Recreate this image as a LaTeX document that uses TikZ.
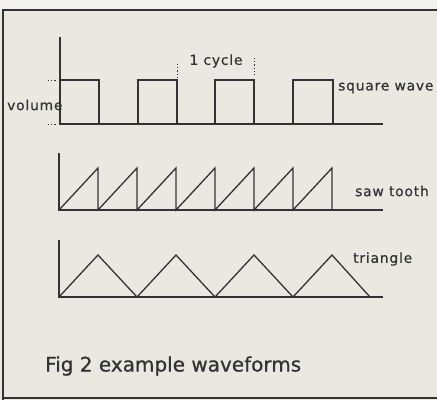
\documentclass[tikz,border=0pt]{standalone}
\usepackage{fontspec}
\setmainfont{DejaVu Sans}
\newfontfamily\lblfont[LetterSpace=6,FakeBold=0.6]{DejaVu Sans}
\newfontfamily\capfont[FakeBold=0.8]{DejaVu Sans}
\definecolor{paper}{HTML}{EAE8E1}
\definecolor{strip}{HTML}{F3F2EE}
\definecolor{ink}{HTML}{333333}
\begin{document}
\begin{tikzpicture}[x=1pt,y=-1pt,
  wave/.style={draw=ink,line width=1.3pt,line join=miter},
  axis/.style={draw=ink,line width=1.3pt},
  lbl/.style={text=ink,font=\lblfont\fontsize{13.8}{14}\selectfont,inner sep=0pt},
  tick/.style={draw=ink,line width=0.9pt,dash pattern=on 1.2pt off 2pt}]
\fill[paper] (0,0) rectangle (437,400);
\fill[strip] (0,0) rectangle (437,10);
\useasboundingbox (0,0) rectangle (437,400);
% frame
\draw[ink,line width=1.8pt] (3,400) -- (3,10) -- (437,10);
\draw[ink,line width=1.2pt] (3,398) -- (437,398);
% square wave
\draw[axis] (60,37) -- (60,124) -- (383,124);
\draw[wave] (60,80) -- (99,80) -- (99,124);
\draw[wave] (138,124) -- (138,80) -- (177,80) -- (177,124);
\draw[wave] (215,124) -- (215,80) -- (254,80) -- (254,124);
\draw[wave] (293,124) -- (293,80) -- (333,80) -- (333,124);
\draw[tick] (48,80) -- (56,80);
\draw[tick] (48,124) -- (56,124);
\draw[tick] (177,64) -- (177,77);
\draw[tick] (254,58) -- (254,77);
\node[lbl,anchor=west] (vol) at (7,105) {volume};
\node[lbl] (cyc) at (216,61) {1 cycle};
\node[lbl,anchor=west] (sq) at (338,88) {square wave};
% saw tooth
\draw[axis] (59,153) -- (59,210) -- (383,210);
\draw[wave] (59,210) -- (98,168) -- (98,210) -- (137,168) -- (137,210)
  -- (176,168) -- (176,210) -- (215,168) -- (215,210) -- (254,168) -- (254,210)
  -- (293,168) -- (293,210) -- (332,168) -- (332,210);
\node[lbl,anchor=west] (saw) at (355,191) {saw tooth};
% triangle
\draw[axis] (59,240) -- (59,297) -- (383,297);
\draw[wave] (59,297) -- (98,255) -- (137,297) -- (176,255) -- (215,297)
  -- (254,255) -- (293,297) -- (332,255) -- (370,297);
\node[lbl,anchor=west] (tri) at (353,259) {triangle};
% caption
\node[text=ink,font=\capfont\fontsize{20}{22}\selectfont,anchor=west,inner sep=0pt] (cap) at (45,366) {Fig 2 example waveforms};
\end{tikzpicture}
\end{document}
